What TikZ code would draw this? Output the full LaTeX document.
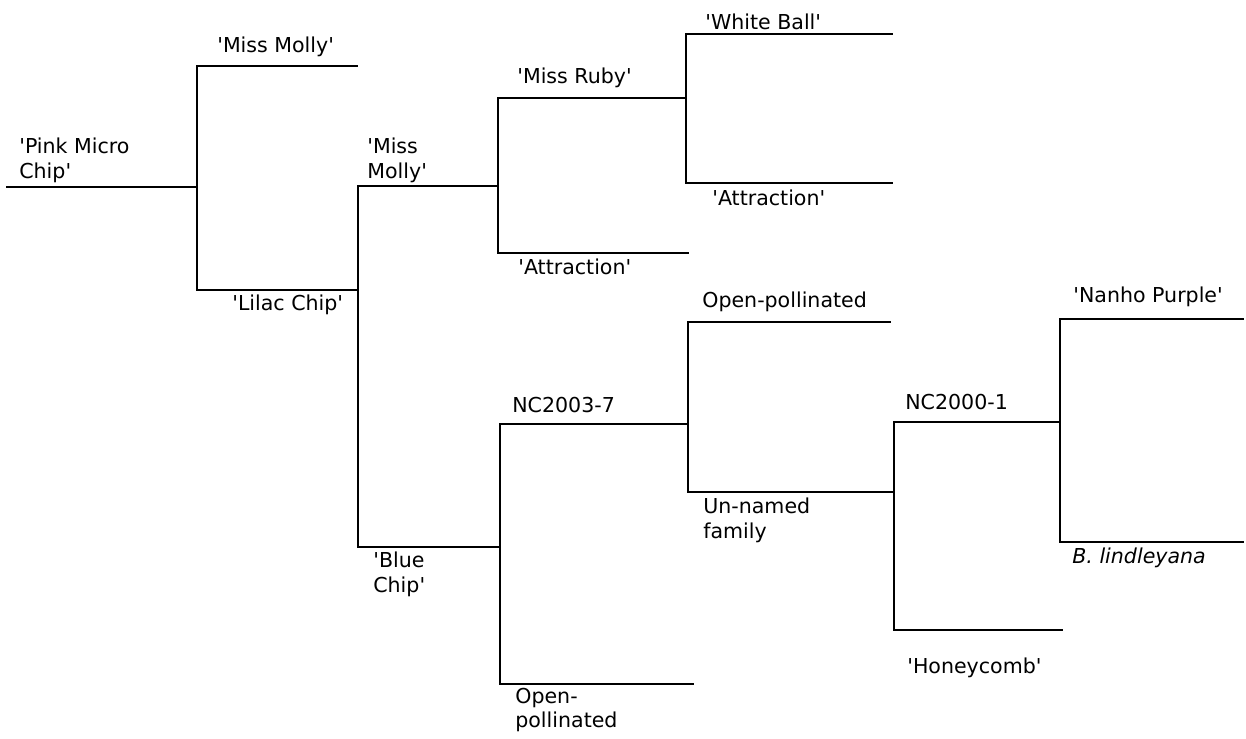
\documentclass[tikz,border=0pt]{standalone}
\usepackage{fontspec}
\setmainfont{DejaVu Sans}[Ligatures=TeXOff]
\tikzset{
  branch/.style={draw=black,line width=1.1pt,line cap=rect}
}
\tikzstyle{every node}=[color=black,font=\fontsize{11.7}{14.2}\selectfont,inner sep=0pt,anchor=west,align=left]

\begin{document}
\begin{tikzpicture}[x=0.02cm,y=-0.02cm]
    \useasboundingbox (0,0) rectangle (1246,738);
    % ends of the branches
    \coordinate (pmc0) at (7,187);
    \coordinate (pmc) at (197,187);
    \coordinate (mm1) at (357,66);
    \coordinate (lc) at (358,290);
    \coordinate (mm2) at (498,186);
    \coordinate (bc) at (500,547);
    \coordinate (mr) at (686,98);
    \coordinate (at1) at (688,253);
    \coordinate (wb) at (892,34);
    \coordinate (at2) at (892,183);
    \coordinate (nc3) at (688,424);
    \coordinate (op2) at (693,684);
    \coordinate (op1) at (890,322);
    \coordinate (un) at (894,492);
    \coordinate (nc0) at (1060,422);
    \coordinate (hc) at (1062,630);
    \coordinate (np) at (1243,319);
    \coordinate (bl) at (1243,542);
    \draw [branch] (pmc0) -- (pmc);
    \draw [branch] (mm1) -- (mm1 -| pmc) |- (lc);
    \draw [branch] (mm2) -- (mm2 -| lc) |- (bc);
    \draw [branch] (mr) -- (mr -| mm2) |- (at1);
    \draw [branch] (wb) -- (wb -| mr) |- (at2);
    \draw [branch] (nc3) -- (nc3 -| bc) |- (op2);
    \draw [branch] (op1) -- (op1 -| nc3) |- (un);
    \draw [branch] (nc0) -- (nc0 -| un) |- (hc);
    \draw [branch] (np) -- (np -| nc0) |- (bl);
    % names
    \node (pmcL) at (19,160) {'Pink Micro\\Chip'};
    \node (mm1L) at (217,47) {'Miss Molly'};
    \node (lcL) at (232,305) {'Lilac Chip'};
    \node (mm2L) at (367,160) {'Miss\\Molly'};
    \node (mrL) at (517,78) {'Miss Ruby'};
    \node (at1L) at (518,267) {'Attraction'};
    \node (wbL) at (705,22) {'White Ball'};
    \node (at2L) at (712,198) {'Attraction'};
    \node (op1L) at (702,302) {Open-pollinated};
    \node (nc3L) at (512,405) {NC2003-7};
    \node (bcL) at (373,574) {'Blue\\Chip'};
    \node (unL) at (703,520) {Un-named\\family};
    \node (op2L) at (515,710) {Open-\\pollinated};
    \node (nc0L) at (905,402) {NC2000-1};
    \node (hcL) at (907,668) {'Honeycomb'};
    \node (npL) at (1073,297) {'Nanho Purple'};
    \node (blL) at (1072,558) {\textit{B. lindleyana}};
\end{tikzpicture}
\end{document}
